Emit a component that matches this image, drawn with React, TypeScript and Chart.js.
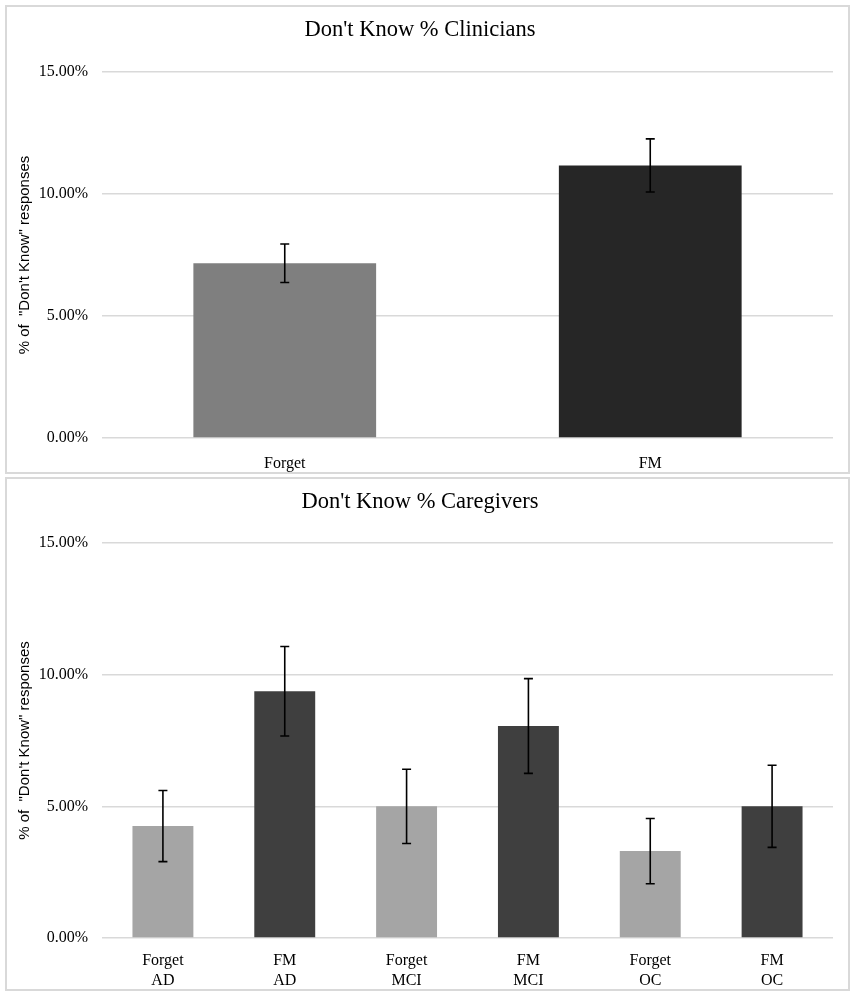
import React, { useEffect, useRef } from 'react';
import { Chart, registerables } from 'chart.js';

Chart.register(...registerables);

// ---- Data ----
const clinicianCategories = ['Forget', 'FM'];
const clinicianValues = [7.16, 11.17];
const clinicianErrors = [0.79, 1.09];
const clinicianColors = ['#7f7f7f', '#262626'];

const caregiverGroups = ['Forget', 'FM', 'Forget', 'FM', 'Forget', 'FM'];
const caregiverConditions = ['AD', 'AD', 'MCI', 'MCI', 'OC', 'OC'];
const caregiverValues = [4.25, 9.37, 5.0, 8.05, 3.3, 5.0];
const caregiverErrors = [1.35, 1.7, 1.41, 1.8, 1.24, 1.56];
const caregiverColors = ['#a5a5a5', '#3f3f3f', '#a5a5a5', '#3f3f3f', '#a5a5a5', '#3f3f3f'];

const yMin = 0;
const yMax = 15;
const yStep = 5;
const yAxisTitle = '% of  "Don\'t Know" responses';

const SERIF = '"Liberation Serif", "Times New Roman", serif';
const SANS = '"Liberation Sans", Arial, sans-serif';

const errorBarPlugin = {
  id: 'errorBars',
  afterDatasetsDraw(chart: any, _args: any, opts: any) {
    const errs: number[] = opts.errors || [];
    const meta = chart.getDatasetMeta(0);
    const yScale = chart.scales.y;
    const data = chart.data.datasets[0].data as number[];
    const ctx = chart.ctx;
    ctx.save();
    ctx.strokeStyle = '#000';
    ctx.lineWidth = 1.6;
    meta.data.forEach((bar: any, i: number) => {
      const v = data[i];
      const e = errs[i] || 0;
      const top = yScale.getPixelForValue(v + e);
      const bot = yScale.getPixelForValue(v - e);
      const x = bar.x;
      const cap = 4.5;
      ctx.beginPath();
      ctx.moveTo(x, top);
      ctx.lineTo(x, bot);
      ctx.moveTo(x - cap, top);
      ctx.lineTo(x + cap, top);
      ctx.moveTo(x - cap, bot);
      ctx.lineTo(x + cap, bot);
      ctx.stroke();
    });
    ctx.restore();
  },
};

type PanelProps = {
  title: string;
  labels: any[];
  values: number[];
  errors: number[];
  colors: string[];
  top: number;
  height: number;
  titlePadTop: number;
  titlePadBottom: number;
  xHeight: number;
  xPad: number;
};

function Panel(p: PanelProps) {
  const ref = useRef<HTMLCanvasElement>(null);
  useEffect(() => {
    if (!ref.current) return;
    const chart = new Chart(ref.current, {
      type: 'bar',
      data: {
        labels: p.labels,
        datasets: [
          {
            data: p.values,
            backgroundColor: p.colors,
            borderWidth: 0,
            categoryPercentage: 1,
            barPercentage: 0.5,
          },
        ],
      },
      options: {
        animation: false,
        responsive: false,
        layout: { padding: { left: 0, right: 15, top: 0, bottom: 0 } },
        plugins: {
          legend: { display: false },
          tooltip: { enabled: false },
          title: {
            display: true,
            text: p.title,
            color: '#000',
            font: { family: SERIF, size: 22.5, weight: 'normal' },
            padding: { top: p.titlePadTop, bottom: p.titlePadBottom },
          },
          errorBars: { errors: p.errors },
        } as any,
        scales: {
          x: {
            grid: { display: false, drawTicks: false },
            border: { display: false },
            ticks: {
              color: '#000',
              padding: p.xPad,
              font: { family: SERIF, size: 16, lineHeight: 1.3 },
              maxRotation: 0,
              autoSkip: false,
            },
            afterFit: (s: any) => {
              s.height = p.xHeight;
            },
          },
          y: {
            min: yMin,
            max: yMax,
            grid: { color: '#d9d9d9', lineWidth: 1.5, drawTicks: false },
            border: { display: false },
            ticks: {
              stepSize: yStep,
              color: '#000',
              padding: 14,
              font: { family: SERIF, size: 16 },
              callback: (v: any) => Number(v).toFixed(2) + '%',
            },
            title: {
              display: true,
              text: yAxisTitle,
              color: '#000',
              font: { family: SANS, size: 15 },
              padding: { top: 9, bottom: 0 },
            },
            afterFit: (s: any) => {
              s.width = 95;
            },
          },
        },
      },
      plugins: [errorBarPlugin],
    });
    return () => chart.destroy();
  }, []);

  return (
    <div
      style={{
        position: 'absolute',
        left: 5,
        top: p.top,
        width: 845,
        height: p.height,
        border: '2px solid #d9d9d9',
        boxSizing: 'border-box',
        background: '#fff',
      }}
    >
      <canvas ref={ref} width={841} height={p.height - 4} style={{ display: 'block' }} />
    </div>
  );
}

export default function App() {
  const caregiverLabels = caregiverGroups.map((g, i) => [g, caregiverConditions[i]]);
  return (
    <div style={{ position: 'absolute', left: 0, top: 0, width: 860, height: 1000, background: '#fff' }}>
      <Panel
        title="Don't Know % Clinicians"
        labels={clinicianCategories}
        values={clinicianValues}
        errors={clinicianErrors}
        colors={clinicianColors}
        top={5}
        height={469}
        titlePadTop={10}
        titlePadBottom={28}
        xHeight={34}
        xPad={15}
      />
      <Panel
        title="Don't Know % Caregivers"
        labels={caregiverLabels}
        values={caregiverValues}
        errors={caregiverErrors}
        colors={caregiverColors}
        top={477}
        height={514}
        titlePadTop={10}
        titlePadBottom={27}
        xHeight={51}
        xPad={12}
      />
    </div>
  );
}
